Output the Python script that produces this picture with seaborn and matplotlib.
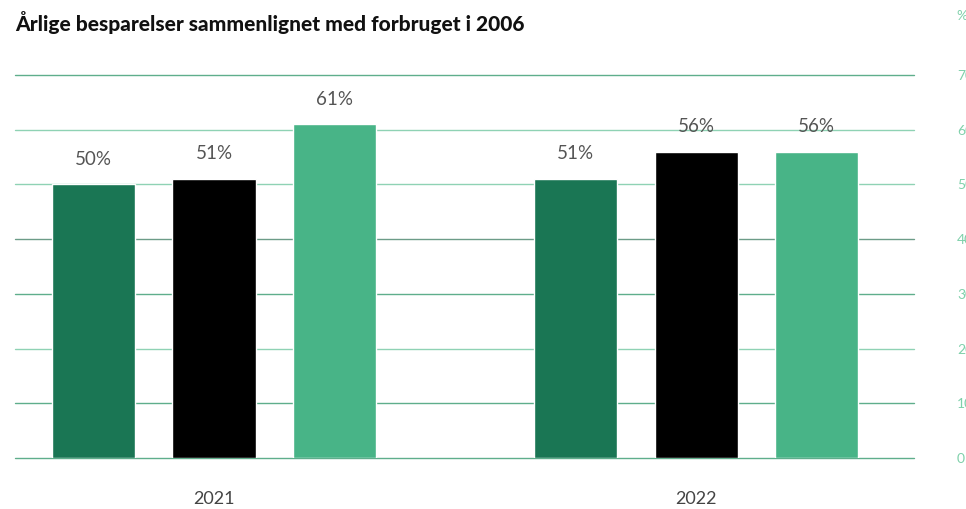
import matplotlib
matplotlib.use('Agg')
import matplotlib.pyplot as plt
import seaborn as sns
import pandas as pd

# data
years = ['2021', '2022']
series = ['Serie 1', 'Serie 2', 'Serie 3']
values_2021 = [50, 51, 61]
values_2022 = [51, 56, 56]
colors = ['#1a7654', '#000000', '#48b487']
y_ticks = [0, 10, 20, 30, 40, 50, 60, 70]

df = pd.DataFrame({
    'year': [years[0]] * 3 + [years[1]] * 3,
    'serie': series * 2,
    'value': values_2021 + values_2022,
})

sns.set_style('white')
plt.rcParams['font.family'] = ['Lato', 'DejaVu Sans']

fig = plt.figure(figsize=(9.66, 5.09), dpi=100)
ax = fig.add_axes([0.0155, 0.1002, 0.9307, 0.7525])

sns.barplot(data=df, x='year', y='value', hue='serie', palette=colors,
            width=0.75, gap=0.31, legend=False, ax=ax, saturation=1)

for c in ax.containers:
    ax.bar_label(c, labels=[f'{v:.0f}%' for v in c.datavalues],
                 padding=12, fontsize=13.5, color='#555555')

ax.set_xlim(-0.413, 1.452)
ax.set_ylim(0, 70)
ax.set_yticks(y_ticks)
ax.set_axisbelow(True)
grid_colors = ['#5fae8c', '#5fae8c', '#8fd2b4', '#5fae8c', '#6c9c88', '#8fd2b4', '#8fd2b4', '#5fae8c']
for t, gc in zip(y_ticks, grid_colors):
    ax.axhline(t, color=gc, lw=1, zorder=0, clip_on=False)

ax.yaxis.tick_right()
ax.tick_params(axis='y', length=0, pad=31, labelsize=10, labelcolor='#7fd0aa')
ax.tick_params(axis='x', length=0, pad=24, labelsize=13, labelcolor='#444444')
for lab in ax.get_yticklabels():
    lab.set_horizontalalignment('left')
ax.set_xlabel('')
ax.set_ylabel('')
sns.despine(ax=ax, left=True, bottom=True, right=True, top=True)

fig.text(0.0155, 0.955, 'Årlige besparelser sammenlignet med forbruget i 2006',
         fontsize=15, fontweight='black', color='#111111', va='center')
fig.text(0.99, 0.968, '%', fontsize=10, color='#7fd0aa', va='center')

fig.savefig('out.png', dpi=100)
